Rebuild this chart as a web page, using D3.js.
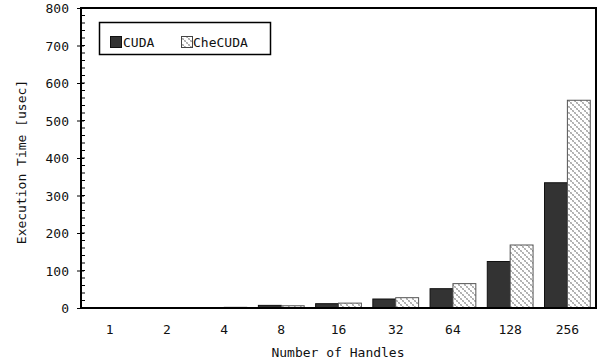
<!DOCTYPE html>
<html>
<head>
<meta charset="utf-8">
<script src="https://cdn.jsdelivr.net/npm/d3@7"></script>
<style>
  html, body { margin: 0; padding: 0; background: #fff; }
  text { font-family: "DejaVu Sans Mono", "Liberation Mono", monospace; fill: #111; }
</style>
</head>
<body>
<svg id="chart" width="605" height="362"></svg>
<script>
const categories = ["1", "2", "4", "8", "16", "32", "64", "128", "256"];
const seriesNames = ["CUDA", "CheCUDA"];
const cudaValues = [0.3, 0.5, 2, 7, 11.5, 24, 51.5, 124, 334];
const checudaValues = [0.4, 0.7, 2.5, 6, 13, 27.5, 65, 168, 554];
const yTicks = [0, 100, 200, 300, 400, 500, 600, 700, 800];
const xTitle = "Number of Handles";
const yTitle = "Execution Time [usec]";

const svg = d3.select("#chart");
const L = 81, R = 596, T = 8, B = 308;

const defs = svg.append("defs");
const pat = defs.append("pattern").attr("id", "hatch")
  .attr("patternUnits", "userSpaceOnUse").attr("width", 6).attr("height", 6);
pat.append("rect").attr("width", 6).attr("height", 6).attr("fill", "#fff");
// checkered diagonal band
const pix = [[0,0],[2,2],[4,4],[1,1],[3,3],[5,5],[1,0],[3,2],[5,4],[0,1],[2,3],[4,5]];
pix.forEach(([px, py], i) => {
  pat.append("rect").attr("x", px).attr("y", py).attr("width", 1).attr("height", 1)
    .attr("fill", (px + py) % 2 === 0 ? "#a8a8a8" : "#c4c4c4");
});

const x = d3.scaleBand().domain(categories).range([L, R]).paddingInner(0.2).paddingOuter(0.1);
const xs = d3.scaleBand().domain(seriesNames).range([0, x.bandwidth()]);
const y = d3.scaleLinear().domain([0, 800]).range([B, T]);

const data = categories.map((c, i) => ({ cat: c, vals: [
  { s: "CUDA", v: cudaValues[i] }, { s: "CheCUDA", v: checudaValues[i] }] }));

const g = svg.append("g");
data.forEach(d => {
  d.vals.forEach(e => {
    const h = B - y(e.v);
    g.append("rect")
      .attr("x", x(d.cat) + xs(e.s))
      .attr("y", y(e.v))
      .attr("width", xs.bandwidth())
      .attr("height", h)
      .attr("fill", e.s === "CUDA" ? "#333" : "url(#hatch)")
      .attr("stroke", e.s === "CUDA" ? "#111" : "#555")
      .attr("stroke-width", h > 2 ? 1 : 0.5);
  });
});

// frame
svg.append("rect").attr("x", L).attr("y", T).attr("width", R - L).attr("height", B - T)
  .attr("fill", "none").attr("stroke", "#000").attr("stroke-width", 2);

// minor ticks (inside)
svg.append("g").selectAll("line").data(d3.range(0, 801, 20)).join("line")
  .attr("x1", L).attr("x2", L + 4).attr("y1", d => y(d)).attr("y2", d => y(d))
  .attr("stroke", "#000").attr("stroke-width", 1);

// y axis major
const yAxis = d3.axisLeft(y).tickValues(yTicks).tickSize(4).tickPadding(8);
const ya = svg.append("g").attr("transform", `translate(${L},0)`).call(yAxis);
ya.select(".domain").remove();
ya.selectAll(".tick line").attr("stroke", "#000").attr("x2", -4).attr("x1", 3);
ya.selectAll(".tick text").attr("font-size", 13).attr("font-family", "DejaVu Sans Mono").attr("fill", "#111")
  .attr("dy", "0.35em");

// x axis labels
const xAxis = d3.axisBottom(x).tickSize(0).tickPadding(17);
const xa = svg.append("g").attr("transform", `translate(0,${B})`).call(xAxis);
xa.select(".domain").remove();
xa.selectAll(".tick text").attr("font-size", 13).attr("font-family", "DejaVu Sans Mono").attr("fill", "#111");

// titles
svg.append("text").attr("x", 338).attr("y", 357).attr("text-anchor", "middle")
  .attr("font-size", 13).text(xTitle);
svg.append("text").attr("transform", "translate(26,162) rotate(-90)").attr("text-anchor", "middle")
  .attr("font-size", 13).text(yTitle);

// legend
const lg = svg.append("g");
lg.append("rect").attr("x", 99.5).attr("y", 22.5).attr("width", 171).attr("height", 32)
  .attr("fill", "#fff").attr("stroke", "#000").attr("stroke-width", 1.5);
const items = [
  { name: seriesNames[0], sx: 110, tx: 123, fill: "#333", stroke: "#111" },
  { name: seriesNames[1], sx: 181, tx: 193, fill: "url(#hatch)", stroke: "#444" }
];
items.forEach(it => {
  lg.append("rect").attr("x", it.sx + 0.5).attr("y", 36.5).attr("width", 11).attr("height", 11)
    .attr("fill", it.fill).attr("stroke", it.stroke).attr("stroke-width", 1);
  lg.append("text").attr("x", it.tx).attr("y", 46.5).attr("font-size", 13).text(it.name);
});
</script>
</body>
</html>
